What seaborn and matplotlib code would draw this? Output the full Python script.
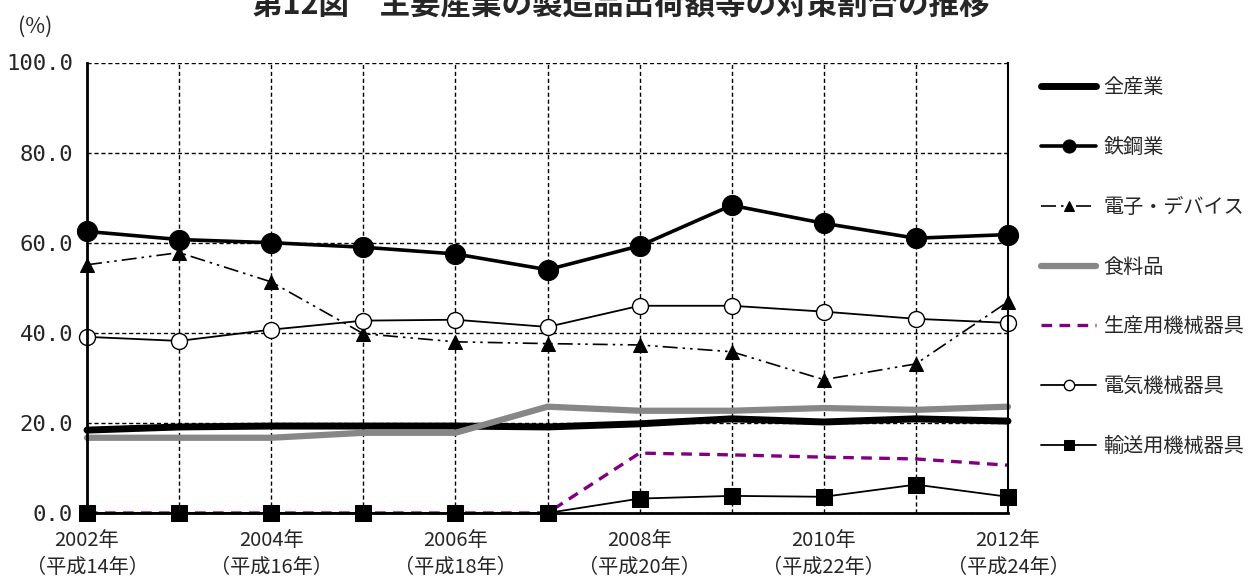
import matplotlib
matplotlib.use("Agg")
import matplotlib.pyplot as plt
import seaborn as sns
import pandas as pd

years = list(range(2002, 2013))
zensangyo = [18.4, 19.1, 19.3, 19.3, 19.3, 19.1, 19.8, 20.9, 20.2, 20.9, 20.4]
tekko = [62.5, 60.7, 60.0, 59.0, 57.5, 54.0, 59.3, 68.3, 64.3, 61.0, 61.8]
denshi = [55.1, 57.8, 51.3, 39.8, 38.0, 37.6, 37.3, 35.8, 29.6, 33.1, 46.9]
shokuryo = [16.7, 16.7, 16.7, 17.8, 17.8, 23.6, 22.7, 22.7, 23.3, 22.9, 23.6]
seisan = [0.0, 0.0, 0.0, 0.0, 0.0, 0.0, 13.3, 12.9, 12.4, 12.0, 10.6]
denki = [39.1, 38.2, 40.7, 42.7, 42.9, 41.3, 46.0, 46.0, 44.7, 43.1, 42.2]
yuso = [0.0, 0.0, 0.0, 0.0, 0.0, 0.0, 3.2, 3.8, 3.6, 6.3, 3.6]

series_names = ["全産業", "鉄鋼業", "電子・デバイス", "食料品", "生産用機械器具", "電気機械器具", "輸送用機械器具"]
series_values = [zensangyo, tekko, denshi, shokuryo, seisan, denki, yuso]

x_tick_labels = ["2002年\n（平成14年）", "", "2004年\n（平成16年）", "", "2006年\n（平成18年）", "",
                 "2008年\n（平成20年）", "", "2010年\n（平成22年）", "", "2012年\n（平成24年）"]
y_ticks = [0, 20, 40, 60, 80, 100]
y_tick_labels = ["0.0", "20.0", "40.0", "60.0", "80.0", "100.0"]
title = "第12図　主要産業の製造品出荷額等の対策割合の推移"

sns.set_style("white")
plt.rcParams["font.family"] = ["Noto Sans CJK JP", "DejaVu Sans"]

styles = [
    dict(color="black", lw=5.0, linestyle="-"),
    dict(color="black", lw=2.6, linestyle="-", marker="o", markersize=14.5,
         markerfacecolor="black", markeredgecolor="black"),
    dict(color="black", lw=1.2, linestyle=(0, (9, 3, 1.5, 3, 1.5, 3)), marker="^", markersize=10.5,
         markerfacecolor="black", markeredgecolor="black"),
    dict(color="#878787", lw=4.5, linestyle="-"),
    dict(color="#800080", lw=2.4, linestyle=(0, (3.2, 2.2))),
    dict(color="black", lw=1.3, linestyle="-", marker="o", markersize=11.5,
         markerfacecolor="white", markeredgecolor="black", markeredgewidth=1.0),
    dict(color="black", lw=1.3, linestyle="-", marker="s", markersize=11.5,
         markerfacecolor="black", markeredgecolor="black"),
]

fig = plt.figure(figsize=(12.48, 5.81), dpi=100)
ax = fig.add_axes([87 / 1248, 68 / 581, (1008 - 87) / 1248, (513 - 62.5) / 581])

for name, vals, st in zip(series_names, series_values, styles):
    df = pd.DataFrame({"year": years, "value": vals})
    sns.lineplot(data=df, x="year", y="value", ax=ax, label=name, clip_on=False, **st)

ax.set_xlim(2002, 2012)
ax.set_ylim(0, 100)
ax.set_xticks(years)
ax.set_xticklabels(x_tick_labels, fontsize=14.5, linespacing=1.4)
ax.set_yticks(y_ticks)
ax.set_yticklabels(y_tick_labels, fontsize=16, family="DejaVu Sans Mono")
ax.set_xlabel("")
ax.set_ylabel("")
ax.tick_params(axis="x", length=0, pad=12)
ax.tick_params(axis="y", direction="in", length=5, width=1, pad=10)

ax.grid(True, color="black", linestyle=(0, (3, 2)), linewidth=1.0)
for side in ["left", "bottom"]:
    ax.spines[side].set_color("black")
    ax.spines[side].set_linewidth(2.0)
ax.spines["right"].set_color("black")
ax.spines["right"].set_linewidth(1.5)
ax.spines["top"].set_visible(False)

leg = ax.legend(loc="upper left", bbox_to_anchor=(1041 / 1248, (581 - 77) / 581),
                bbox_transform=fig.transFigure, frameon=False, fontsize=14.5,
                handlelength=2.75, handletextpad=0.35, labelspacing=1.93,
                borderpad=0, borderaxespad=0, markerscale=0.65)

fig.text(0.497, 1 - 14 / 581, title, ha="center", va="baseline", fontsize=22, fontweight="bold")
fig.text(18 / 1248, 1 - 33 / 581, "(%)", ha="left", va="baseline", fontsize=15.5)

fig.savefig("out.png", dpi=100)
